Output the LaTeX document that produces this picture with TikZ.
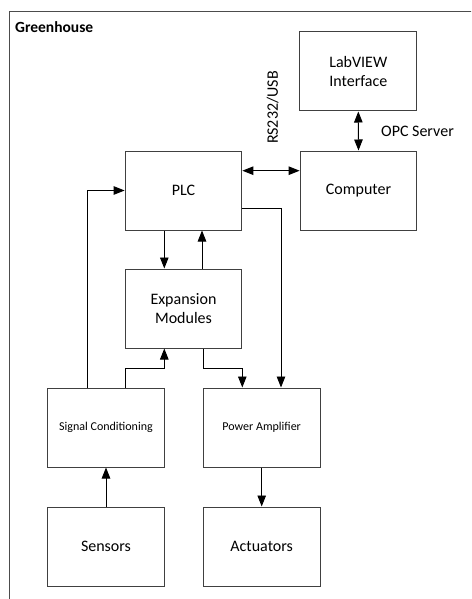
\documentclass[tikz,border=0pt]{standalone}
\usepackage{fontspec}
\setmainfont{Carlito}
\usetikzlibrary{arrows.meta,calc}
\begin{document}
\begin{tikzpicture}[x=1pt,y=-1pt,
  blk/.style={draw=black!75,line width=1pt,minimum width=116.7pt,minimum height=79pt,inner sep=0pt,align=center,font=\fontsize{16}{18.5}\selectfont},
  smallblk/.style={blk,font=\fontsize{12}{14}\selectfont},
  conn/.style={line width=0.9pt,-{Triangle[length=11pt,width=8.5pt]}},
  biconn/.style={line width=0.9pt,{Triangle[length=11pt,width=8.5pt]}-{Triangle[length=11pt,width=8.5pt]}},
  lbl/.style={font=\fontsize{16}{18.5}\selectfont,inner sep=0pt}]
\clip (0,0) rectangle (471,599);
\fill[white] (0,0) rectangle (471,599);
\draw[black!70,line width=1pt] (9,12) rectangle (500,630);
\node[anchor=west,inner sep=0pt,font=\fontsize{15.5}{18}\selectfont\bfseries] (title) at (15,27) {Greenhouse};

\node[blk] (lab) at (358.3,71.5) {LabVIEW\\Interface};
\node[blk] (plc) at (183.5,190.5) {PLC};
\node[blk] (comp) at (358.5,190.5) {Computer};
\node[blk] (exp) at (183.5,308.5) {Expansion\\Modules};
\node[smallblk] (sig) at (106,427.5) {Signal Conditioning};
\node[smallblk] (pa) at (261.7,427.5) {Power Amplifier};
\node[blk] (sen) at (106,546.5) {Sensors};
\node[blk] (act) at (261.7,546.5) {Actuators};

\draw[biconn] (lab.south) -- (comp.north);
\node[lbl] (opc) at (417.5,131) {OPC Server};
\draw[biconn] ([yshift=19.8pt]plc.east) -- ([yshift=19.8pt]comp.west);
\node[lbl,rotate=90] (rs) at (272.7,107.5) {RS232/USB};

\draw[conn] ([xshift=-18.3pt]sig.north) |- (plc.west);
\draw[conn] ([xshift=-19.2pt]plc.south) -- ([xshift=-19.2pt]exp.north);
\draw[conn] ([xshift=18.5pt]exp.north) -- ([xshift=18.5pt]plc.south);
\draw[conn] ([yshift=-17.8pt]plc.east) -| ([xshift=19.3pt]pa.north);
\draw[conn] ([xshift=19.8pt]exp.south) -- ++(0,20.3) -| ([xshift=-19.4pt]pa.north);
\draw[conn] ([xshift=19.3pt]sig.north) -- ++(0,-18.7) -| ([xshift=-19.2pt]exp.south);
\draw[conn] (sen.north) -- (sig.south);
\draw[conn] (pa.south) -- (act.north);
\end{tikzpicture}
\end{document}
